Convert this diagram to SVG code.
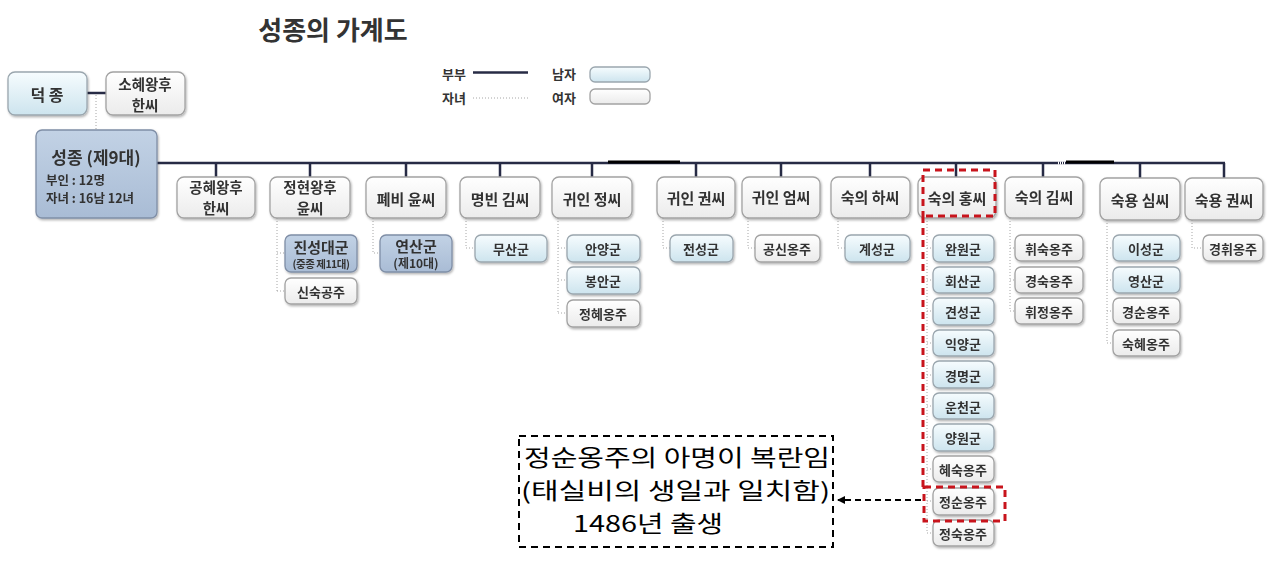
<svg xmlns="http://www.w3.org/2000/svg" width="1285" height="567" viewBox="0 0 1285 567">
<style>
text{font-family:"Noto Sans CJK KR","Noto Sans",sans-serif;font-weight:bold;fill:#333;text-anchor:middle;dominant-baseline:central}
.m{fill:url(#gm);stroke:#9aa6ae;stroke-width:1.3}
.f{fill:url(#gf);stroke:#a2a2a2;stroke-width:1.3}
.k{fill:url(#gk);stroke:#7f8ea6;stroke-width:1.3}
.w{font-size:15px}
.w2{font-size:14.5px}
.c{font-size:13px}
.sp{stroke:#272b45;stroke-width:2.5;fill:none}
.ch{stroke:#a6a6a6;stroke-width:1;stroke-dasharray:1 2;fill:none}
.red{stroke:#c8141c;stroke-width:3;stroke-dasharray:7 5;fill:none}
.ann{font-family:"Noto Sans CJK KR",sans-serif;font-weight:normal;font-size:22.5px;fill:#000;text-anchor:start;dominant-baseline:auto}
</style>
<defs>
<linearGradient id="gm" x1="0" y1="0" x2="0" y2="1"><stop offset="0" stop-color="#f6fcfe"/><stop offset="1" stop-color="#cde4ee"/></linearGradient>
<linearGradient id="gf" x1="0" y1="0" x2="0" y2="1"><stop offset="0" stop-color="#ffffff"/><stop offset="1" stop-color="#ebebeb"/></linearGradient>
<linearGradient id="gk" x1="0" y1="0" x2="0" y2="1"><stop offset="0" stop-color="#c2d2e5"/><stop offset="1" stop-color="#a9bcd5"/></linearGradient>
<filter id="sh" x="-10%" y="-10%" width="130%" height="140%"><feDropShadow dx="1" dy="1.5" stdDeviation="1" flood-color="#000" flood-opacity="0.3"/></filter>
<marker id="ah" markerWidth="8" markerHeight="8" refX="7" refY="4" orient="auto" markerUnits="userSpaceOnUse"><path d="M0,0 L8,4 L0,8 z" fill="#000"/></marker>
</defs>
<rect width="1285" height="567" fill="#fff"/>
<text x="333" y="28" style="font-size:26px">성종의 가계도</text>

<g id="legend">
<text x="454" y="73" style="font-size:13px">부부</text>
<line x1="473" y1="72.5" x2="528" y2="72.5" class="sp"/>
<text x="564" y="73" style="font-size:13px">남자</text>
<rect x="590" y="67" width="60" height="15" rx="5" class="m"/>
<text x="454" y="97" style="font-size:13px">자녀</text>
<line x1="473" y1="98" x2="528" y2="98" class="ch"/>
<text x="564" y="97" style="font-size:13px">여자</text>
<rect x="590" y="89" width="60" height="15" rx="5" class="f"/>
</g>

<g id="connectors">
<line x1="87" y1="93" x2="106" y2="93" class="sp"/>
<line x1="96" y1="95" x2="96" y2="130" class="ch"/>
<line x1="157" y1="163" x2="1225" y2="163" class="sp"/>
<line x1="608" y1="162" x2="680" y2="162" stroke="#000" stroke-width="3"/>
<line x1="1066" y1="162" x2="1114" y2="162" stroke="#000" stroke-width="3"/>
<line x1="1058" y1="163" x2="1066" y2="163" stroke="#fff" stroke-width="3" stroke-dasharray="1 1"/>
<path class="sp" d="M216,163V177 M310,163V177 M406,163V177 M500,163V177 M592,163V177 M696,163V177 M781,163V177 M870,163V177 M956,163V177 M1043,163V177 M1140,163V178 M1224,163V178"/>
<path class="ch" d="M277,218V291 M277,253H285 M277,291H285"/>
<path class="ch" d="M373,218V253H380"/>
<path class="ch" d="M466,218V248H475"/>
<path class="ch" d="M558,218V313 M558,248H567 M558,280H567 M558,313H567"/>
<path class="ch" d="M663,218V248H670"/>
<path class="ch" d="M748,218V248H755"/>
<path class="ch" d="M838,218V248H845"/>
<path class="ch" d="M927,218V533 M927,248H933 M927,280H933 M927,311H933 M927,343H933 M927,375H933 M927,406H933 M927,437H933 M927,469H933 M927,501H933 M927,533H933"/>
<path class="ch" d="M1010,218V311 M1010,248H1015 M1010,280H1015 M1010,311H1015"/>
<path class="ch" d="M1107,220V343 M1107,248H1113 M1107,280H1113 M1107,311H1113 M1107,343H1113"/>
<path class="ch" d="M1192,220V248H1203"/>
<line x1="921" y1="500" x2="838" y2="500" stroke="#000" stroke-width="2" stroke-dasharray="6 4" marker-end="url(#ah)"/>
</g>

<g id="n-deokjong" filter="url(#sh)"><rect x="8" y="72" width="79" height="43" rx="7" class="m"/><text x="47" y="94" style="font-size:16px">덕 종</text></g>
<g id="n-sohye" filter="url(#sh)"><rect x="106" y="72" width="79" height="43" rx="7" class="f"/><text x="145" y="83" class="w2">소혜왕후</text><text x="145" y="104" class="w2">한씨</text></g>
<g id="n-seongjong" filter="url(#sh)"><rect x="36" y="130" width="121" height="88" rx="6" class="k"/>
<text x="96" y="156" style="font-size:17px">성종 (제9대)</text>
<text x="46" y="179" style="font-size:12.5px;text-anchor:start">부인 : 12명</text>
<text x="46" y="197" style="font-size:12.5px;text-anchor:start">자녀 : 16남 12녀</text></g>

<g id="n-gonghye" filter="url(#sh)"><rect x="177" y="177" width="78" height="41" rx="7" class="f"/><text x="216" y="186.5" class="w2">공혜왕후</text><text x="216" y="207.5" class="w2">한씨</text></g>
<g id="n-junghyeon" filter="url(#sh)"><rect x="270" y="177" width="80" height="41" rx="7" class="f"/><text x="310" y="186.5" class="w2">정현왕후</text><text x="310" y="207.5" class="w2">윤씨</text></g>
<g id="n-pyebi" filter="url(#sh)"><rect x="366" y="177" width="80" height="41" rx="7" class="f"/><text x="406" y="198" class="w">폐비 윤씨</text></g>
<g id="n-myeongbin" filter="url(#sh)"><rect x="460" y="177" width="80" height="41" rx="7" class="f"/><text x="500" y="198" class="w">명빈 김씨</text></g>
<g id="n-gwiin-jeong" filter="url(#sh)"><rect x="552" y="177" width="80" height="41" rx="7" class="f"/><text x="592" y="198" class="w">귀인 정씨</text></g>
<g id="n-gwiin-kwon" filter="url(#sh)"><rect x="657" y="177" width="78" height="41" rx="7" class="f"/><text x="696" y="197" class="w">귀인 권씨</text></g>
<g id="n-gwiin-eom" filter="url(#sh)"><rect x="742" y="177" width="78" height="41" rx="7" class="f"/><text x="781" y="196" class="w">귀인 엄씨</text></g>
<g id="n-sukui-ha" filter="url(#sh)"><rect x="831" y="177" width="79" height="41" rx="7" class="f"/><text x="870" y="196" class="w">숙의 하씨</text></g>
<g id="n-sukui-hong" filter="url(#sh)"><rect x="918" y="177" width="78" height="41" rx="7" class="f"/><text x="957" y="197" class="w">숙의 홍씨</text></g>
<g id="n-sukui-kim" filter="url(#sh)"><rect x="1005" y="177" width="78" height="41" rx="7" class="f"/><text x="1044" y="196" class="w">숙의 김씨</text></g>
<g id="n-sukyong-sim" filter="url(#sh)"><rect x="1100" y="178" width="80" height="42" rx="7" class="f"/><text x="1140" y="199" class="w">숙용 심씨</text></g>
<g id="n-sukyong-kwon" filter="url(#sh)"><rect x="1185" y="178" width="78" height="42" rx="7" class="f"/><text x="1224" y="199" class="w">숙용 권씨</text></g>

<g id="n-jinseong" filter="url(#sh)"><rect x="285" y="235" width="72" height="37" rx="6" class="k"/><text x="321" y="246" style="font-size:15px">진성대군</text><text x="321" y="263" style="font-size:10.5px;letter-spacing:-0.5px">(중종 제11대)</text></g>
<g id="n-sinsuk" filter="url(#sh)"><rect x="285" y="278" width="72" height="26" rx="6" class="f"/><text x="321" y="291" class="c">신숙공주</text></g>
<g id="n-yeonsan" filter="url(#sh)"><rect x="380" y="235" width="72" height="37" rx="6" class="k"/><text x="416" y="245" style="font-size:15px">연산군</text><text x="416" y="262" style="font-size:12px">(제10대)</text></g>
<g id="n-musan" filter="url(#sh)"><rect x="475" y="235" width="72" height="27" rx="6" class="m"/><text x="511" y="248" class="c">무산군</text></g>
<g id="n-anyang" filter="url(#sh)"><rect x="567" y="235" width="73" height="27" rx="6" class="m"/><text x="603" y="248" class="c">안양군</text></g>
<g id="n-bongan" filter="url(#sh)"><rect x="567" y="267" width="73" height="27" rx="6" class="m"/><text x="603" y="280" class="c">봉안군</text></g>
<g id="n-junghye" filter="url(#sh)"><rect x="567" y="300" width="73" height="27" rx="6" class="f"/><text x="603" y="313" class="c">정혜옹주</text></g>
<g id="n-jeonseong" filter="url(#sh)"><rect x="670" y="235" width="63" height="27" rx="6" class="m"/><text x="701" y="248" class="c">전성군</text></g>
<g id="n-gongsin" filter="url(#sh)"><rect x="755" y="235" width="65" height="27" rx="6" class="f"/><text x="787" y="248" class="c">공신옹주</text></g>
<g id="n-gyeseong" filter="url(#sh)"><rect x="845" y="235" width="65" height="27" rx="6" class="m"/><text x="877" y="248" class="c">계성군</text></g>

<g id="n-wanwon" filter="url(#sh)"><rect x="933" y="235" width="61" height="27" rx="6" class="m"/><text x="963" y="248" class="c">완원군</text></g>
<g id="n-hoesan" filter="url(#sh)"><rect x="933" y="267" width="61" height="26" rx="6" class="m"/><text x="963" y="280" class="c">회산군</text></g>
<g id="n-geonseong" filter="url(#sh)"><rect x="933" y="298" width="61" height="27" rx="6" class="m"/><text x="963" y="311" class="c">견성군</text></g>
<g id="n-ikyang" filter="url(#sh)"><rect x="933" y="330" width="61" height="26" rx="6" class="m"/><text x="963" y="343" class="c">익양군</text></g>
<g id="n-gyeongmyeong" filter="url(#sh)"><rect x="933" y="361" width="61" height="27" rx="6" class="m"/><text x="963" y="375" class="c">경명군</text></g>
<g id="n-uncheon" filter="url(#sh)"><rect x="933" y="393" width="61" height="26" rx="6" class="m"/><text x="963" y="406" class="c">운천군</text></g>
<g id="n-yangwon" filter="url(#sh)"><rect x="933" y="424" width="61" height="27" rx="6" class="m"/><text x="963" y="437" class="c">양원군</text></g>
<g id="n-hyesuk" filter="url(#sh)"><rect x="933" y="456" width="61" height="26" rx="6" class="f"/><text x="963" y="469" class="c">혜숙옹주</text></g>
<g id="n-jeongsun" filter="url(#sh)"><rect x="933" y="488" width="61" height="27" rx="6" class="f"/><text x="963" y="501" class="c">정순옹주</text></g>
<g id="n-jeongsuk" filter="url(#sh)"><rect x="933" y="520" width="61" height="26" rx="6" class="f"/><text x="963" y="533" class="c">정숙옹주</text></g>

<g id="n-hwisuk" filter="url(#sh)"><rect x="1015" y="235" width="68" height="26" rx="6" class="f"/><text x="1049" y="248" class="c">휘숙옹주</text></g>
<g id="n-gyeongsuk" filter="url(#sh)"><rect x="1015" y="267" width="68" height="26" rx="6" class="f"/><text x="1049" y="280" class="c">경숙옹주</text></g>
<g id="n-hwijeong" filter="url(#sh)"><rect x="1015" y="298" width="68" height="26" rx="6" class="f"/><text x="1049" y="311" class="c">휘정옹주</text></g>

<g id="n-iseong" filter="url(#sh)"><rect x="1113" y="235" width="67" height="26" rx="6" class="m"/><text x="1146" y="248" class="c">이성군</text></g>
<g id="n-yeongsan" filter="url(#sh)"><rect x="1113" y="267" width="67" height="26" rx="6" class="m"/><text x="1146" y="280" class="c">영산군</text></g>
<g id="n-gyeongsun" filter="url(#sh)"><rect x="1113" y="298" width="67" height="26" rx="6" class="f"/><text x="1146" y="311" class="c">경순옹주</text></g>
<g id="n-sukhye" filter="url(#sh)"><rect x="1113" y="330" width="67" height="26" rx="6" class="f"/><text x="1146" y="343" class="c">숙혜옹주</text></g>
<g id="n-gyeonghwi" filter="url(#sh)"><rect x="1203" y="235" width="60" height="26" rx="6" class="f"/><text x="1233" y="248" class="c">경휘옹주</text></g>

<g id="highlight">
<path class="red" d="M923,487 V218 M923,218 V170 H995 V216 H923"/>
<rect x="924" y="487" width="81" height="34" class="red"/>
</g>

<g id="annotation">
<rect x="519" y="436" width="314" height="111" fill="none" stroke="#000" stroke-width="2" stroke-dasharray="7 5"/>
<text class="ann" x="524" y="466" textLength="306" lengthAdjust="spacingAndGlyphs">정순옹주의 아명이 복란임</text>
<text class="ann" x="521" y="499" textLength="309" lengthAdjust="spacingAndGlyphs">(태실비의 생일과 일치함)</text>
<text class="ann" x="573" y="532" textLength="150" lengthAdjust="spacingAndGlyphs">1486년 출생</text>
</g>
</svg>
